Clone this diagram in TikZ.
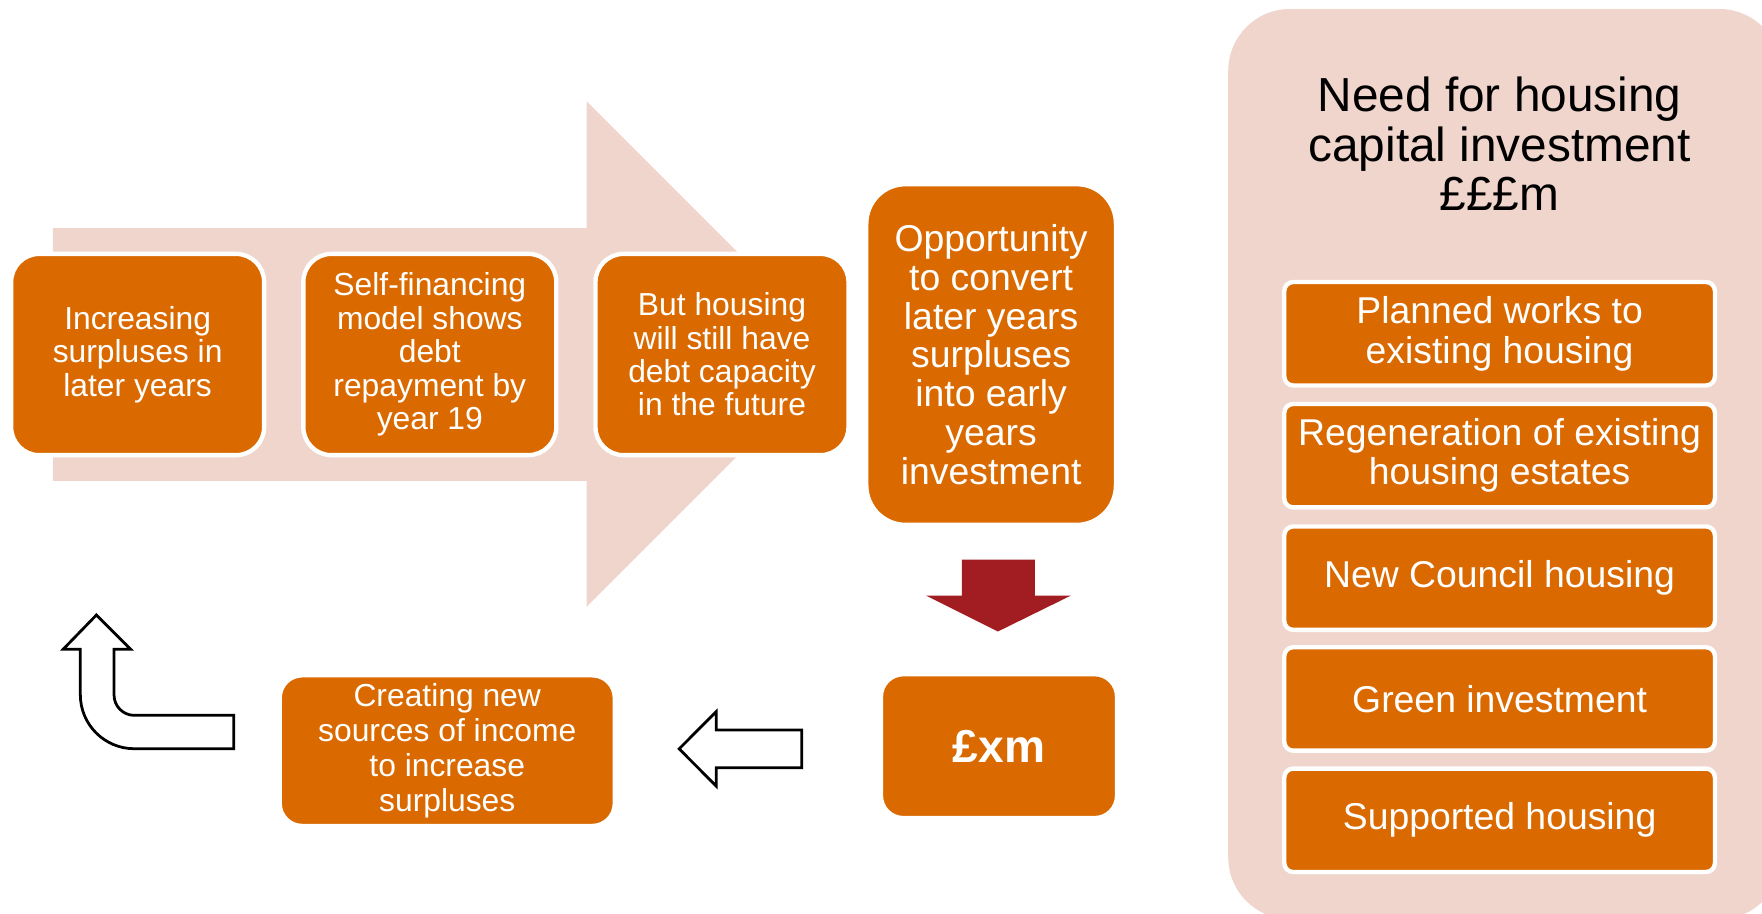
\documentclass[tikz,border=0pt]{standalone}
\usepackage{fontspec}
\setmainfont{Liberation Sans}
\definecolor{hraorange}{RGB}{218,106,0}
\definecolor{hrapink}{RGB}{240,213,204}
\definecolor{hrared}{RGB}{162,29,34}

\begin{document}
\begin{tikzpicture}[x=0.01cm,y=-0.01cm]
\tikzstyle{box}=[rectangle,rounded corners=0.25cm,align=center,draw=white,line width=1.1pt,fill=hraorange,text=white,inner sep=0pt,font=\fontsize{8.05}{8.45}\selectfont]
\tikzstyle{bigbox}=[box,rounded corners=0.35cm,font=\fontsize{9.45}{9.82}\selectfont]
\tikzstyle{need}=[box,rounded corners=0.08cm,minimum width=3.83cm,minimum height=0.92cm,font=\fontsize{9.45}{9.96}\selectfont]
\tikzstyle{hollow}=[draw=black,fill=white,line width=0.7pt,line join=miter]
\useasboundingbox (0,0) rectangle (1568,813);

% background arrow and side panel
\fill[hrapink] (47,203) -- (522,203) -- (522,90) -- (747,315) -- (522,540) -- (522,428) -- (47,428) -- cycle;
\fill[hrapink,rounded corners=0.55cm] (1093,8) rectangle (1585,818);

\node[box,minimum width=2.25cm,minimum height=1.79cm] at(122.5, 315.5) (surplus) {Increasing\\surpluses in\\later years};
\node[box,minimum width=2.25cm,minimum height=1.79cm] at(382.5, 315.5) (model) {Self-financing\\model shows\\debt\\repayment by\\year 19};
\node[box,minimum width=2.25cm,minimum height=1.79cm] at(642.5, 315.5) (capacity) {But housing\\will still have\\debt capacity\\in the future};
\node[bigbox,minimum width=2.22cm,minimum height=3.03cm] at(882, 315.5) (convert) {Opportunity\\to convert\\later years\\surpluses\\into early\\years\\investment};
\node[box,rounded corners=0.2cm,minimum width=2.10cm,minimum height=1.28cm,font=\bfseries\fontsize{11.67}{12}\selectfont] at(889, 664) (xm) {£xm};
\node[box,rounded corners=0.2cm,minimum width=2.98cm,minimum height=1.34cm,font=\fontsize{8.05}{8.82}\selectfont] at(398, 668) (income) {Creating new\\sources of income\\to increase\\surpluses};

\fill[hrared] (856,498) -- (921,498) -- (921,530) -- (953,530) -- (888,562) -- (824,530) -- (856,530) -- cycle;
\draw[hollow] (713.5,649.6) -- (637.3,649.6) -- (637.3,633.3) -- (604.4,666.4) -- (637.3,699.5) -- (637.3,683.2) -- (713.5,683.2) -- cycle;
\draw[hollow] (208,636.6) -- (119.5,636.6) .. controls (109.6,636.6) and (101.5,628.5) .. (101.5,618.6)
  -- (101.5,577.8) -- (116.3,577.8) -- (85.8,547.3) -- (56.2,577.8) -- (71.5,577.8) -- (71.5,618.3)
  .. controls (71.5,644.8) and (93,666.3) .. (119.5,666.3) -- (208,666.3) -- cycle;

\node[align=center,font=\fontsize{12.09}{12.52}\selectfont] at(1334.5, 128) (title) {Need for housing\\capital investment\\£££m};
\node[need] at(1334.5, 297) (planned) {Planned works to\\existing housing};
\node[need] at(1334.5, 405.5) (regen) {Regeneration of existing\\housing estates};
\node[need] at(1334.5, 514.5) (council) {New Council housing};
\node[need] at(1334.5, 622) (green) {Green investment};
\node[need] at(1334.5, 730) (supported) {Supported housing};
\end{tikzpicture}
\end{document}
